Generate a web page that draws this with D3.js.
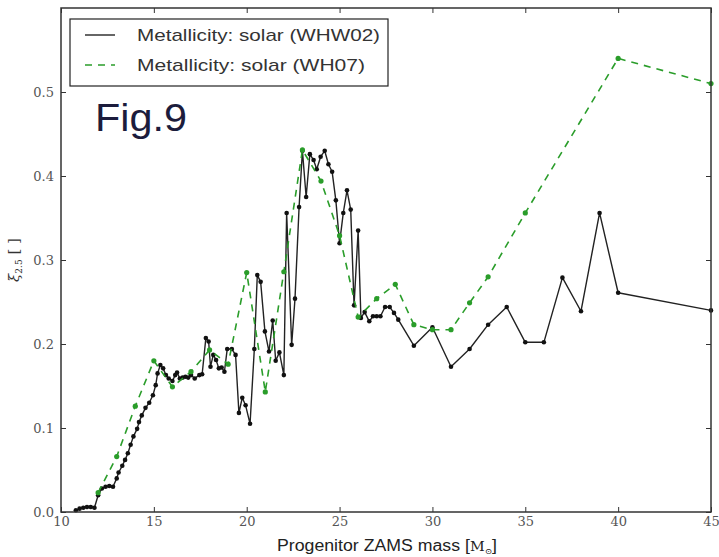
<!DOCTYPE html>
<html>
<head>
<meta charset="utf-8">
<script src="https://cdn.jsdelivr.net/npm/d3@7"></script>
<style>
  html, body { margin: 0; padding: 0; background: #fff; }
  svg { display: block; }
</style>
</head>
<body>
<svg id="chart" width="719" height="557"></svg>
<script>
// Compactness xi_2.5 versus progenitor ZAMS mass, two solar-metallicity model sets.

// WHW02 series
const whw02Mass = [
  10.8, 11.0, 11.2, 11.4, 11.6, 11.8, 12.0, 12.2, 12.4, 12.6, 12.8, 13.0, 13.1, 13.3,
  13.45, 13.6, 13.75, 13.9, 14.1, 14.2, 14.35, 14.55, 14.75, 14.95, 15.1, 15.2, 15.35,
  15.5, 15.65, 15.8, 16.0, 16.15, 16.25, 16.4, 16.55, 16.7, 16.85, 17.0, 17.2, 17.45,
  17.6, 17.8, 17.95, 18.05, 18.2, 18.35, 18.5, 18.65, 18.8, 18.95, 19.2, 19.4, 19.58,
  19.76, 19.94, 20.18, 20.41, 20.57, 20.75, 20.98, 21.2, 21.4, 21.56, 21.76, 22.0,
  22.15, 22.42, 22.6, 22.82, 23.0, 23.2, 23.4, 23.6, 23.77, 23.98, 24.2, 24.4, 24.6,
  24.8, 25.0, 25.2, 25.4, 25.6, 25.78, 26.0, 26.15, 26.35, 26.6, 26.8, 27.0, 27.2,
  27.45, 27.7, 27.93, 28.16, 29, 30, 31, 32, 33, 34, 35, 36, 37, 38, 39, 40, 45
];
const whw02Xi = [
  0.002, 0.004, 0.005, 0.006, 0.006, 0.005, 0.020, 0.028, 0.030, 0.031, 0.030, 0.040, 0.047, 0.055,
  0.062, 0.070, 0.080, 0.090, 0.099, 0.107, 0.115, 0.124, 0.130, 0.139, 0.151, 0.165, 0.175,
  0.171, 0.163, 0.159, 0.156, 0.163, 0.166, 0.159, 0.160, 0.161, 0.160, 0.163, 0.159, 0.163,
  0.164, 0.207, 0.203, 0.173, 0.187, 0.181, 0.171, 0.172, 0.167, 0.194, 0.194, 0.187, 0.118,
  0.136, 0.127, 0.105, 0.194, 0.282, 0.274, 0.215, 0.191, 0.228, 0.180, 0.190, 0.163,
  0.356, 0.199, 0.254, 0.363, 0.430, 0.375, 0.426, 0.419, 0.408, 0.423, 0.430, 0.414, 0.405,
  0.371, 0.320, 0.356, 0.383, 0.360, 0.246, 0.335, 0.231, 0.238, 0.227, 0.233, 0.233, 0.233,
  0.244, 0.244, 0.237, 0.229, 0.198, 0.220, 0.173, 0.194, 0.223, 0.244, 0.202, 0.202, 0.279,
  0.239, 0.356, 0.261, 0.240
];

// WH07 series
const wh07Mass = [12, 13, 14, 15, 16, 17, 18, 19, 20, 21, 22, 23, 24, 25, 26, 27, 28, 29, 30, 31, 32, 33, 35, 40, 45];
const wh07Xi = [
  0.023, 0.066, 0.126, 0.180, 0.149, 0.167, 0.193, 0.176, 0.285, 0.143, 0.286, 0.431, 0.394,
  0.329, 0.232, 0.254, 0.271, 0.223, 0.217, 0.217, 0.249, 0.280, 0.356, 0.540, 0.510
];

const xTicks = [10, 15, 20, 25, 30, 35, 40, 45];
const yTicks = [0.0, 0.1, 0.2, 0.3, 0.4, 0.5];
const legendLabels = ["Metallicity: solar (WHW02)", "Metallicity: solar (WH07)"];

const plot = { left: 61, right: 711, top: 8, bottom: 512 };
const black = "#111111";
const green = "#2a9d2a";

const svg = d3.select("#chart");
const x = d3.scaleLinear().domain([10, 45]).range([plot.left, plot.right]);
const y = d3.scaleLinear().domain([0, 0.6]).range([plot.bottom, plot.top]);

const tickFont = "'DejaVu Serif', serif";
const sansFont = "'Liberation Sans', Arial, sans-serif";

// Axes with inward ticks on all four sides
const gx = svg.append("g").attr("transform", `translate(0,${plot.bottom})`)
  .call(d3.axisBottom(x).tickValues(xTicks).tickSizeInner(-5).tickSizeOuter(0).tickPadding(5)
    .tickFormat(d3.format("d")));
const gxTop = svg.append("g").attr("transform", `translate(0,${plot.top})`)
  .call(d3.axisTop(x).tickValues(xTicks).tickSizeInner(-5).tickSizeOuter(0).tickFormat(""));
const gy = svg.append("g").attr("transform", `translate(${plot.left},0)`)
  .call(d3.axisLeft(y).tickValues(yTicks).tickSizeInner(-5).tickSizeOuter(0).tickPadding(7)
    .tickFormat(d3.format(".1f")));
const gyRight = svg.append("g").attr("transform", `translate(${plot.right},0)`)
  .call(d3.axisRight(y).tickValues(yTicks).tickSizeInner(-5).tickSizeOuter(0).tickFormat(""));

[gx, gxTop, gy, gyRight].forEach(g => {
  g.select(".domain").remove();
  g.selectAll(".tick line").attr("stroke", "#333").attr("stroke-width", 1);
  g.selectAll(".tick text").attr("font-family", tickFont).attr("font-size", 13).attr("fill", "#555");
});

// Data lines
const lineGen = (xs, ys) => d3.line().x((d, i) => x(xs[i])).y((d, i) => y(ys[i]));

const gData = svg.append("g");
gData.append("path")
  .datum(whw02Xi)
  .attr("d", lineGen(whw02Mass, whw02Xi))
  .attr("fill", "none").attr("stroke", "#222").attr("stroke-width", 1.4)
  .attr("stroke-linejoin", "round");
gData.selectAll("circle.whw02").data(whw02Xi).join("circle")
  .attr("class", "whw02")
  .attr("cx", (d, i) => x(whw02Mass[i])).attr("cy", d => y(d)).attr("r", 2.3)
  .attr("fill", black);

gData.append("path")
  .datum(wh07Xi)
  .attr("d", lineGen(wh07Mass, wh07Xi))
  .attr("fill", "none").attr("stroke", green).attr("stroke-width", 1.6)
  .attr("stroke-dasharray", "7,6");
gData.selectAll("circle.wh07").data(wh07Xi).join("circle")
  .attr("class", "wh07")
  .attr("cx", (d, i) => x(wh07Mass[i])).attr("cy", d => y(d)).attr("r", 2.6)
  .attr("fill", green);

// Frame
svg.append("rect")
  .attr("x", plot.left).attr("y", plot.top)
  .attr("width", plot.right - plot.left).attr("height", plot.bottom - plot.top)
  .attr("fill", "none").attr("stroke", "#333").attr("stroke-width", 1.5);

// Axis titles
const xTitle = svg.append("text")
  .attr("x", 277).attr("y", 551)
  .attr("textLength", 220).attr("lengthAdjust", "spacingAndGlyphs")
  .attr("font-family", sansFont).attr("font-size", 16).attr("fill", "#222");
xTitle.append("tspan").text("Progenitor ZAMS mass [");
xTitle.append("tspan").attr("font-family", tickFont).attr("font-size", 13).text("M");
xTitle.append("tspan").attr("font-family", tickFont).attr("font-size", 8).attr("dy", 3).text("⊙");
xTitle.append("tspan").attr("dy", -3).text("]");

const yTitle = svg.append("text")
  .attr("transform", `translate(19,${(plot.top + plot.bottom) / 2}) rotate(-90)`)
  .attr("text-anchor", "middle")
  .attr("font-family", tickFont).attr("font-size", 15).attr("fill", "#333");
yTitle.append("tspan").attr("font-style", "italic").text("ξ");
yTitle.append("tspan").attr("font-size", 9).attr("dy", 3).text("2.5");
yTitle.append("tspan").attr("dy", -3).text(" [ ]");

// Legend
const legend = svg.append("g");
legend.append("rect")
  .attr("x", 70).attr("y", 19).attr("width", 318).attr("height", 67)
  .attr("fill", "#fff").attr("stroke", "#222").attr("stroke-width", 1.2);
const legendStyles = [
  { stroke: "#333", dash: null, width: 243 },
  { stroke: green, dash: "7,6", width: 228 }
];
legendLabels.forEach((label, i) => {
  const cy = 35 + i * 30;
  legend.append("line")
    .attr("x1", 85).attr("x2", 115).attr("y1", cy).attr("y2", cy)
    .attr("stroke", legendStyles[i].stroke).attr("stroke-width", 1.5)
    .attr("stroke-dasharray", legendStyles[i].dash);
  legend.append("text")
    .attr("x", 137).attr("y", cy + 6)
    .attr("textLength", legendStyles[i].width).attr("lengthAdjust", "spacingAndGlyphs")
    .attr("font-family", sansFont).attr("font-size", 17)
    .attr("fill", "#333")
    .text(label);
});

// Figure tag
svg.append("text")
  .attr("x", 95).attr("y", 131)
  .attr("textLength", 92).attr("lengthAdjust", "spacingAndGlyphs")
  .attr("font-family", sansFont).attr("font-size", 38)
  .attr("fill", "#1c1c3c")
  .text("Fig.9");
</script>
</body>
</html>
